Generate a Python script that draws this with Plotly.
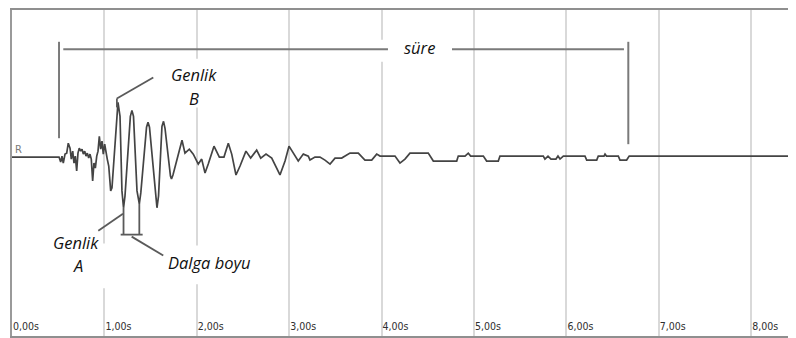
import plotly.graph_objects as go

# ---- data ----
time_s = [0.000, 0.509, 0.527, 0.541, 0.555, 0.574, 0.592, 0.609, 0.628, 0.642,
          0.657, 0.671, 0.685, 0.700, 0.714, 0.728, 0.744, 0.758, 0.772, 0.787,
          0.801, 0.815, 0.830, 0.844, 0.858, 0.873, 0.887, 0.902, 0.917, 0.931,
          0.945, 0.960, 0.974, 0.988, 1.003, 1.017, 1.031, 1.047, 1.068, 1.082,
          1.096, 1.118, 1.135, 1.147, 1.169, 1.190, 1.207, 1.223, 1.281, 1.298,
          1.315, 1.353, 1.378, 1.394, 1.456, 1.472, 1.488, 1.553, 1.569, 1.586,
          1.623, 1.640, 1.656, 1.715, 1.726, 1.742, 1.824, 1.840, 1.872, 1.919,
          1.962, 2.016, 2.053, 2.089, 2.124, 2.186, 2.244, 2.294, 2.341, 2.378,
          2.424, 2.468, 2.532, 2.583, 2.648, 2.692, 2.749, 2.811, 2.900, 2.955,
          2.998, 3.044, 3.098, 3.153, 3.207, 3.225, 3.279, 3.333, 3.387, 3.442,
          3.496, 3.568, 3.658, 3.748, 3.820, 3.893, 3.947, 3.983, 4.145, 4.199,
          4.253, 4.307, 4.505, 4.560, 4.813, 4.830, 4.903, 4.938, 4.964, 5.101,
          5.137, 5.263, 5.281, 5.750, 5.768, 5.801, 5.833, 5.887, 5.909, 5.931,
          5.967, 6.201, 6.220, 6.328, 6.345, 6.407, 6.418, 6.434, 6.562, 6.580,
          6.652, 6.680, 8.485]
amplitude = [0, 0, -5, 1, -6, 3, 4, 14, 9, -2,
             6, -6, 1, -14, 4, 9, 6, 8, 3, 6,
             1, 4, -1, 3, -2, -24, -6, -11, 1, 6,
             21, 8, 16, 3, 13, 4, -2, -9, -34, -31,
             -11, 19, 46, 55, 41, -34, -51, -39, 41, 47,
             41, -34, -47, -36, 30, 35, 30, -39, -51, -39,
             31, 36, 29, -19, -22, -18, 14, 17, 4, 8,
             3, -7, -2, -16, -7, 11, 0, 0, 14, 3,
             -18, -9, 6, -1, 7, -1, 3, -1, -18, -4,
             11, 4, -4, 3, 1, -3, 0, 0, -3, -7,
             -1, -1, 4, 4, -3, -3, 3, 1, 1, -6,
             -2, 4, 4, -4, -4, 1, 1, 4, 1, 1,
             -4, -4, 1, 1, -2, 1, -2, -2, 1, -2,
             1, 1, -3, -3, 1, 1, 3, 1, 1, -3,
             -3, 1, 1]
tick_values = [0, 1, 2, 3, 4, 5, 6, 7, 8]
tick_labels = ["0,00s", "1,00s", "2,00s", "3,00s", "4,00s",
               "5,00s", "6,00s", "7,00s", "8,00s"]
channel_label = "R"
duration_label = "süre"
amp_b_label = ["Genlik", "B"]
amp_a_label = ["Genlik", "A"]
wavelength_label = "Dalga boyu"

fig = go.Figure()
fig.add_trace(go.Scatter(
    x=time_s, y=amplitude, mode="lines",
    line=dict(color="#444444", width=1.7),
    hoverinfo="skip", showlegend=False,
))

LINE = dict(color="#5a5a5a", width=1.8)
BRACKET = dict(color="#7a7a7a", width=2)

shapes = []
# white boxes behind the texts (hide grid lines)
for (x0, x1, y0, y1) in [(3.97, 4.80, 96, 118), (1.494, 2.316, 50, 99),
                         (0.357, 1.061, -132, -87), (1.548, 2.706, -128, -89)]:
    shapes.append(dict(type="rect", x0=x0, x1=x1, y0=y0, y1=y1,
                       fillcolor="white", line=dict(width=0)))
# duration bracket
shapes += [
    dict(type="line", x0=0.509, x1=0.509, y0=116, y1=19, line=BRACKET),
    dict(type="line", x0=6.670, x1=6.670, y0=116, y1=13, line=BRACKET),
    dict(type="line", x0=0.555, x1=4.069, y0=108.5, y1=108.5, line=BRACKET),
    dict(type="line", x0=4.762, x1=6.623, y0=108.5, y1=108.5, line=BRACKET),
]
# amplitude B
shapes += [
    dict(type="line", x0=1.135, x1=1.135, y0=59, y1=50, line=LINE),
    dict(type="line", x0=1.135, x1=1.529, y0=59, y1=80, line=LINE),
]
# amplitude A / wavelength
shapes += [
    dict(type="line", x0=1.207, x1=1.207, y0=-51, y1=-78, line=LINE),
    dict(type="line", x0=1.378, x1=1.378, y0=-47, y1=-78, line=LINE),
    dict(type="line", x0=1.176, x1=1.414, y0=-78, y1=-78, line=LINE),
    dict(type="line", x0=1.201, x1=0.934, y0=-57, y1=-74, line=LINE),
    dict(type="line", x0=1.295, x1=1.637, y0=-80, y1=-99, line=LINE),
]
for s in shapes:
    s.update(xref="x", yref="y", layer="above")

TXT = dict(family="Open Sans", size=16.5, color="#111111", style="italic")
annotations = [
    dict(x=4.412, y=110, text=duration_label),
    dict(x=1.970, y=82.7, text=amp_b_label[0]),
    dict(x=1.970, y=59.3, text=amp_b_label[1]),
    dict(x=0.697, y=-85.7, text=amp_a_label[0]),
    dict(x=0.709, y=-109, text=amp_a_label[1]),
    dict(x=2.140, y=-105.7, text=wavelength_label),
]
for a in annotations:
    a.update(xref="x", yref="y", showarrow=False, font=TXT,
             xanchor="center", yanchor="middle")
NARROW = "Liberation Sans Narrow, Arial Narrow, DejaVu Sans Condensed, sans-serif"
annotations.append(dict(x=0.01, y=8, xref="x", yref="y", text=channel_label,
                        showarrow=False, xanchor="left", yanchor="middle",
                        font=dict(family=NARROW, size=11, color="#7a7a7a")))

# the page body has an 8px default margin, so the figure is offset by (8, 8)
fig.update_layout(
    width=788, height=330,
    margin=dict(l=4, r=0, t=0, b=2),
    paper_bgcolor="white", plot_bgcolor="white",
    shapes=shapes, annotations=annotations,
    xaxis=dict(range=[0, 8.485], tickvals=tick_values, ticktext=tick_labels,
               showgrid=True, gridcolor="#d9d9d9", gridwidth=1.5,
               zeroline=False, showline=True, linecolor="#8f8f8f", linewidth=2,
               mirror=True, ticks="", ticklabelposition="inside right",
               tickfont=dict(family=NARROW, size=10.5, color="#2e2e2e")),
    yaxis=dict(range=[-180, 148], showgrid=False, zeroline=False,
               showticklabels=False, showline=True, linecolor="#9a9a9a",
               linewidth=2, ticks=""),
)

fig.write_html("out.html",
               post_script="document.documentElement.style.overflow='hidden';")
